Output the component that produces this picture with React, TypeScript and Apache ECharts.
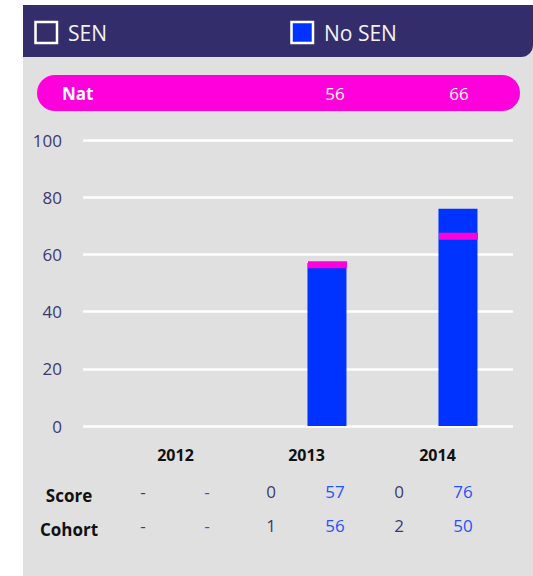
import React, { useEffect, useRef } from "react";
import * as echarts from "echarts";

const years = ["2012", "2013", "2014"];
const senScores: (number | null)[] = [null, 0, 0];
const noSenScores: (number | null)[] = [null, 57, 76];
const senCohort: (number | null)[] = [null, 1, 2];
const noSenCohort: (number | null)[] = [null, 56, 50];
const natValues: (number | null)[] = [null, 56, 66];
const yTicks = [0, 20, 40, 60, 80, 100];
const legendNames = ["SEN", "No SEN"];
const rowNames = ["Score", "Cohort"];

const FONT = "Open Sans";
const PURPLE = "#3c3970";
const BLUE = "#2452ff";
const BAR_BLUE = "#0033ff";
const MAGENTA = "#ff00dd";

const W = 533;
const H = 576;

// layout
const SEN_COL_X = (i: number) => 143 + 128 * i;
const NOSEN_COL_X = (i: number) => 207 + 128 * i;
const NAT_X = (i: number) => 335 + 124 * (i - 1);

export default function App() {
  const ref = useRef<HTMLDivElement>(null);

  useEffect(() => {
    if (!ref.current) return;
    const chart = echarts.init(ref.current, null, { renderer: "svg" });

    const fmt = (v: number | null) => (v === null ? "-" : String(v));

    const graphics: any[] = [
      { type: "rect", z: -10, shape: { x: 23, y: 5, width: W - 23, height: H - 5 }, style: { fill: "#e0e0e0" } },
      {
        type: "rect",
        z: -9,
        shape: { x: 23, y: 5, width: W - 23, height: 52, r: [0, 0, 12, 0] },
        style: { fill: "#332d6b" },
      },
      { type: "rect", z: -8, shape: { x: 35.5, y: 22, width: 21.5, height: 21 }, style: { fill: "none", stroke: "#ffffff", lineWidth: 2.5 } },
      { type: "text", z: -8, x: 68, y: 33, style: { text: legendNames[0], fill: "#f2f2f2", font: `21px '${FONT}'`, verticalAlign: "middle" } },
      { type: "rect", z: -8, shape: { x: 291.5, y: 22, width: 21.5, height: 21 }, style: { fill: BAR_BLUE, stroke: "#ffffff", lineWidth: 2.5 } },
      { type: "text", z: -8, x: 324, y: 33, style: { text: legendNames[1], fill: "#f2f2f2", font: `21px '${FONT}'`, verticalAlign: "middle" } },
      { type: "rect", z: -8, shape: { x: 37, y: 75, width: 483, height: 36, r: 18 }, style: { fill: MAGENTA } },
      { type: "text", z: -7, x: 62, y: 93, style: { text: "Nat", fill: "#ffffff", font: `bold 17px '${FONT}'`, verticalAlign: "middle" } },
    ];

    natValues.forEach((v, i) => {
      if (v === null) return;
      graphics.push({
        type: "text",
        z: -7,
        x: NAT_X(i),
        y: 93,
        style: { text: String(v), fill: "#ffffff", font: `17px '${FONT}'`, align: "center", verticalAlign: "middle" },
      });
    });

    rowNames.forEach((name, r) => {
      graphics.push({
        type: "text",
        x: 69,
        y: 495 + r * 34,
        style: { text: name, fill: "#111111", font: `bold 17px '${FONT}'`, align: "center", verticalAlign: "middle" },
      });
    });

    const rows = [
      [senScores, noSenScores],
      [senCohort, noSenCohort],
    ];
    rows.forEach((pair, r) => {
      years.forEach((_, i) => {
        graphics.push({
          type: "text",
          x: SEN_COL_X(i),
          y: 491 + r * 34.5,
          style: { text: fmt(pair[0][i]), fill: PURPLE, font: `17px '${FONT}'`, align: "center", verticalAlign: "middle" },
        });
        graphics.push({
          type: "text",
          x: NOSEN_COL_X(i),
          y: 491 + r * 34.5,
          style: { text: fmt(pair[1][i]), fill: BLUE, font: `17px '${FONT}'`, align: "center", verticalAlign: "middle" },
        });
      });
    });

    chart.setOption({
      animation: false,
      backgroundColor: "#ffffff",
      textStyle: { fontFamily: FONT },
      graphic: graphics,
      grid: [
        { left: 83, right: 20, top: 140, bottom: 150 },
        { left: 110, right: 30, top: 140, bottom: 150 },
      ],
      xAxis: [
        { type: "category", gridIndex: 0, data: years, show: false },
        {
          type: "category",
          gridIndex: 1,
          data: years,
          axisLine: { show: false },
          axisTick: { show: false },
          axisLabel: { margin: 21, color: "#111111", fontWeight: "bold", fontSize: 16, fontFamily: FONT },
        },
      ],
      yAxis: [
        {
          type: "value",
          gridIndex: 0,
          min: 0,
          max: 100,
          interval: 20,
          axisLine: { show: false },
          axisTick: { show: false },
          axisLabel: {
            margin: 21,
            color: PURPLE,
            fontSize: 17,
            fontFamily: FONT,
            formatter: (v: number) => (yTicks.includes(v) ? String(v) : ""),
          },
          splitLine: { show: true, lineStyle: { color: "#ffffff", width: 2.5 } },
        },
        { type: "value", gridIndex: 1, min: 0, max: 100, interval: 20, show: false },
      ],
      series: [
        {
          name: legendNames[0],
          type: "bar",
          xAxisIndex: 1,
          yAxisIndex: 1,
          data: senScores,
          barWidth: 39,
          barGap: "5%",
          itemStyle: { color: "#ffffff" },
        },
        {
          name: legendNames[1],
          type: "bar",
          xAxisIndex: 1,
          yAxisIndex: 1,
          data: noSenScores,
          barWidth: 39,
          barGap: "5%",
          itemStyle: { color: BAR_BLUE },
        },
        {
          name: "Nat",
          type: "scatter",
          xAxisIndex: 1,
          yAxisIndex: 1,
          data: natValues,
          symbol: "rect",
          symbolSize: [39, 7],
          symbolOffset: [21, -1],
          itemStyle: { color: MAGENTA, borderWidth: 0, opacity: 1 },
          z: 5,
        },
      ],
    });

    return () => chart.dispose();
  }, []);

  return (
    <div
      ref={ref}
      style={{ position: "absolute", left: 0, top: 0, width: W, height: H }}
    />
  );
}
